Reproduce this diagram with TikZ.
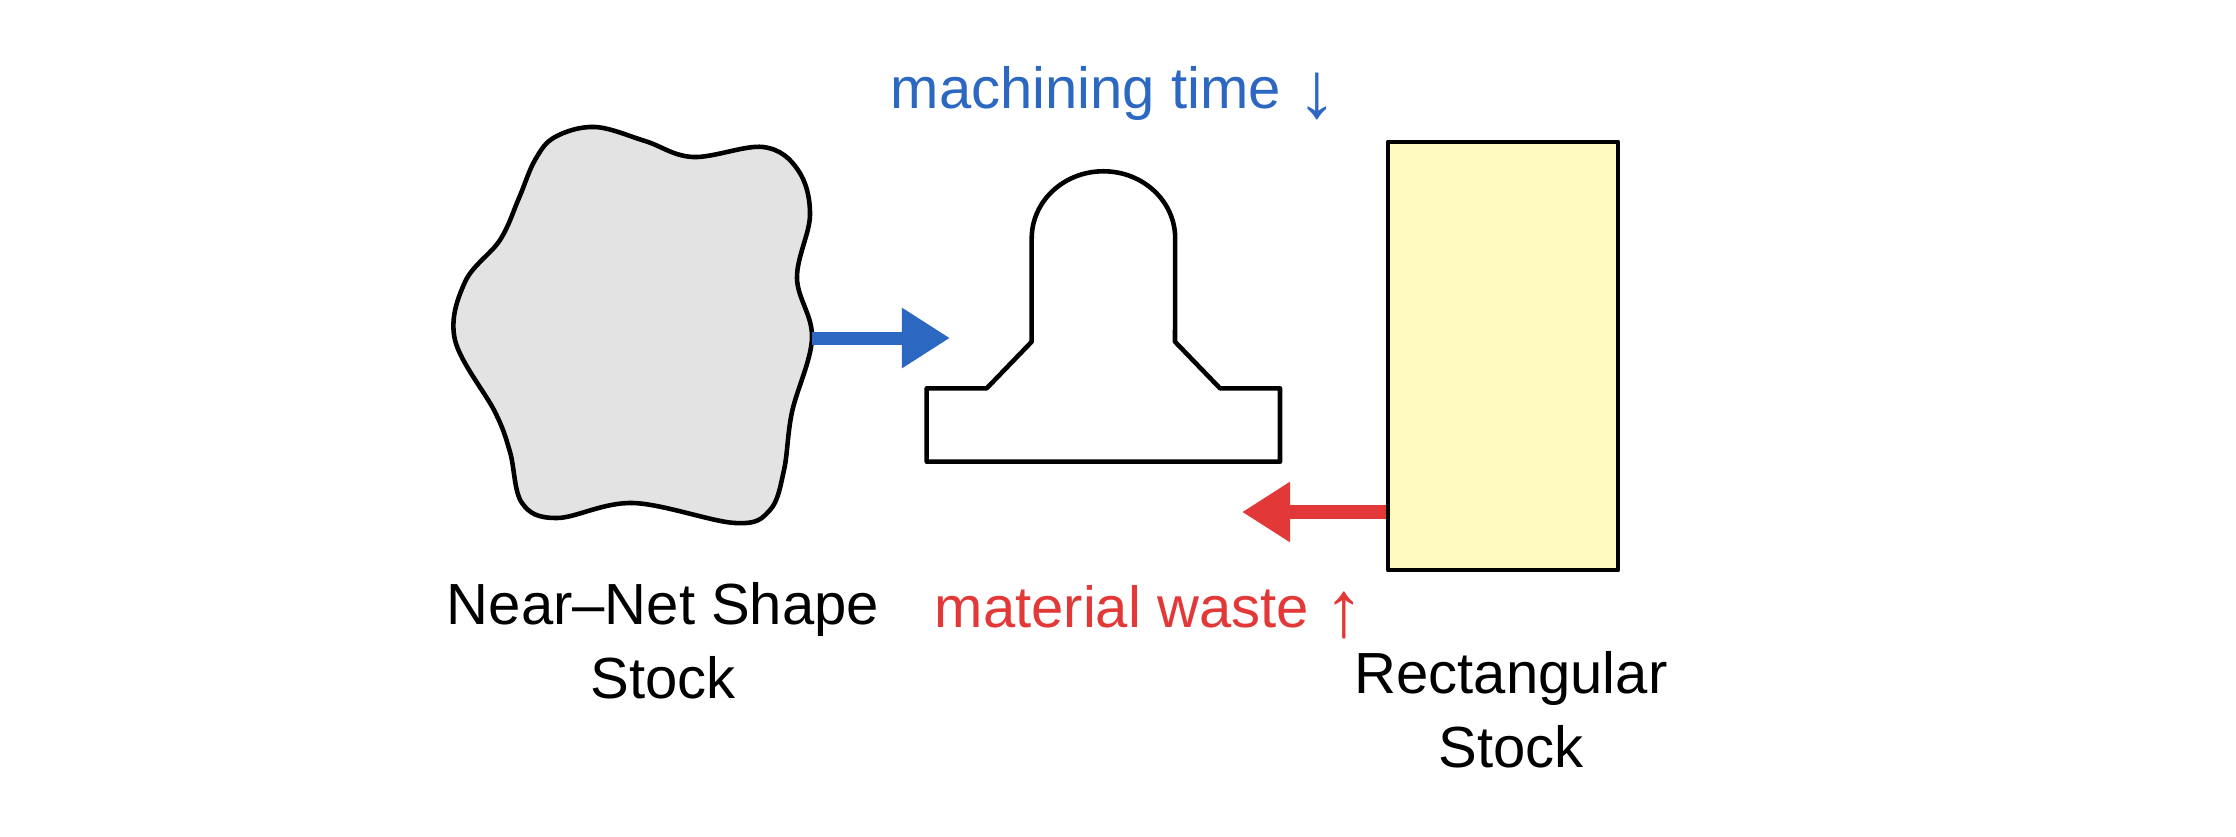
\documentclass[tikz,border=0pt]{standalone}
\usepackage{fontspec}
\setmainfont{Liberation Sans}
\usetikzlibrary{arrows.meta}
\definecolor{myblue}{HTML}{2C68C2}
\definecolor{myred}{HTML}{E23838}
\definecolor{blobgray}{HTML}{E3E3E3}
\definecolor{stockyellow}{HTML}{FFFABF}
\newcommand{\bigarrow}[1]{\raisebox{-2.6pt}{\fontsize{22.5}{22.5}\selectfont #1}}
\tikzset{
  outline/.style={draw=black, line width=1.3pt, line join=round},
  lbl/.style={inner sep=0pt, font=\fontsize{16.5}{20.8}\selectfont},
  bluearrow/.style={draw=myblue, line width=0.13cm, -{Triangle[length=0.48cm, width=0.57cm]}, myblue},
  redarrow/.style={draw=myred, line width=0.14cm, -{Triangle[length=0.48cm, width=0.57cm]}, myred}
}
\begin{document}
\begin{tikzpicture}[x=0.01cm, y=-0.01cm]
\path[use as bounding box, fill=white] (0,0) rectangle (2236,836);

% near-net shape stock (blob)
\draw[outline, fill=blobgray] plot[smooth cycle, tension=0.6] coordinates {
(595,127) (645,141) (693,157) (763,147) (798,170) (810,215) (797,278) (812,338) (792,412)
(784,470) (770,510) (735,523) (633,503) (557,518) (522,503) (510,452) (495,412)
(455,340) (465,282) (500,240) (519,198) (535,160) (555,137)};
\coordinate (blobE) at (812,338);

% finished part
\draw[outline, fill=white] (926.7,388.3) -- (986.7,388.3) -- (1031.7,341.7) -- (1031.7,238.3)
  arc[start angle=180, end angle=0, x radius=0.717cm, y radius=0.67cm]
  -- (1175,341.7) -- (1220,388.3) -- (1280,388.3) -- (1280,461.7) -- (926.7,461.7) -- cycle;
\coordinate (partIn) at (950,338);
\coordinate (partOut) at (1242,512);

% rectangular stock
\node[outline, fill=stockyellow, minimum width=2.30cm, minimum height=4.28cm, inner sep=0pt] (rect) at (1503,356) {};

% arrows
\draw[bluearrow] (blobE) -- (partIn);
\draw[redarrow] (rect.west |- partOut) -- (partOut);

% labels
\node[lbl, anchor=base west, text=myblue] (mt) at (890,108) {machining time \bigarrow{↓}};
\node[lbl, anchor=base west, text=myred] (mw) at (934,627) {material waste \bigarrow{↑}};
\node[lbl, anchor=base, align=center] (nn) at (663,698) {Near–Net Shape\\Stock};
\node[lbl, anchor=base, align=center] (rs) at (1511,767) {Rectangular\\Stock};
\end{tikzpicture}
\end{document}
